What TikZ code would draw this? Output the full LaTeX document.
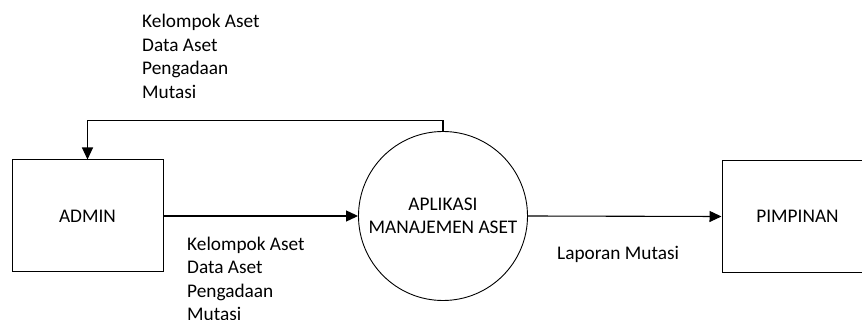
\documentclass[tikz,border=0pt]{standalone}
\usepackage{fontspec}
\setmainfont{Carlito}
\usetikzlibrary{arrows.meta}
\tikzset{
  entity/.style={draw, line width=1pt, minimum width=151pt, minimum height=112pt, inner sep=0pt},
  process/.style={draw, line width=0.9pt, circle, minimum size=169pt, inner sep=0pt, align=center},
  flow/.style={line width=1.1pt, -{Triangle[length=12pt,width=11pt]}},
  lbl/.style={inner sep=0pt, align=left, anchor=north west},
}
\begin{document}
\begin{tikzpicture}[x=1pt, y=-1pt, font=\fontsize{19.3}{23.5}\selectfont]
\useasboundingbox (0,0) rectangle (862,320);
\clip (0,0) rectangle (862,320);
\node[entity] (admin) at (87.5,216) {ADMIN};
\node[process] (app) at (443,216) {APLIKASI\\MANAJEMEN ASET};
\node[entity] (pimp) at (797.5,216.5) {PIMPINAN};
\coordinate (c1) at (443,120.5);
\coordinate (c2) at (87.5,120.5);
\draw[flow] (app.north) -- (c1) -- (c2) -- (admin.north);
\draw[flow] (admin.east) -- (app.west);
\draw[flow] (app.east) -- (pimp.west);
\node[lbl] (l1) at (142,14) {Kelompok Aset\\Data Aset\\Pengadaan\\Mutasi};
\node[lbl] (l2) at (187,236.5) {Kelompok Aset\\Data Aset\\Pengadaan\\Mutasi};
\node[lbl] (l3) at (557,246.5) {Laporan Mutasi};
\end{tikzpicture}
\end{document}
